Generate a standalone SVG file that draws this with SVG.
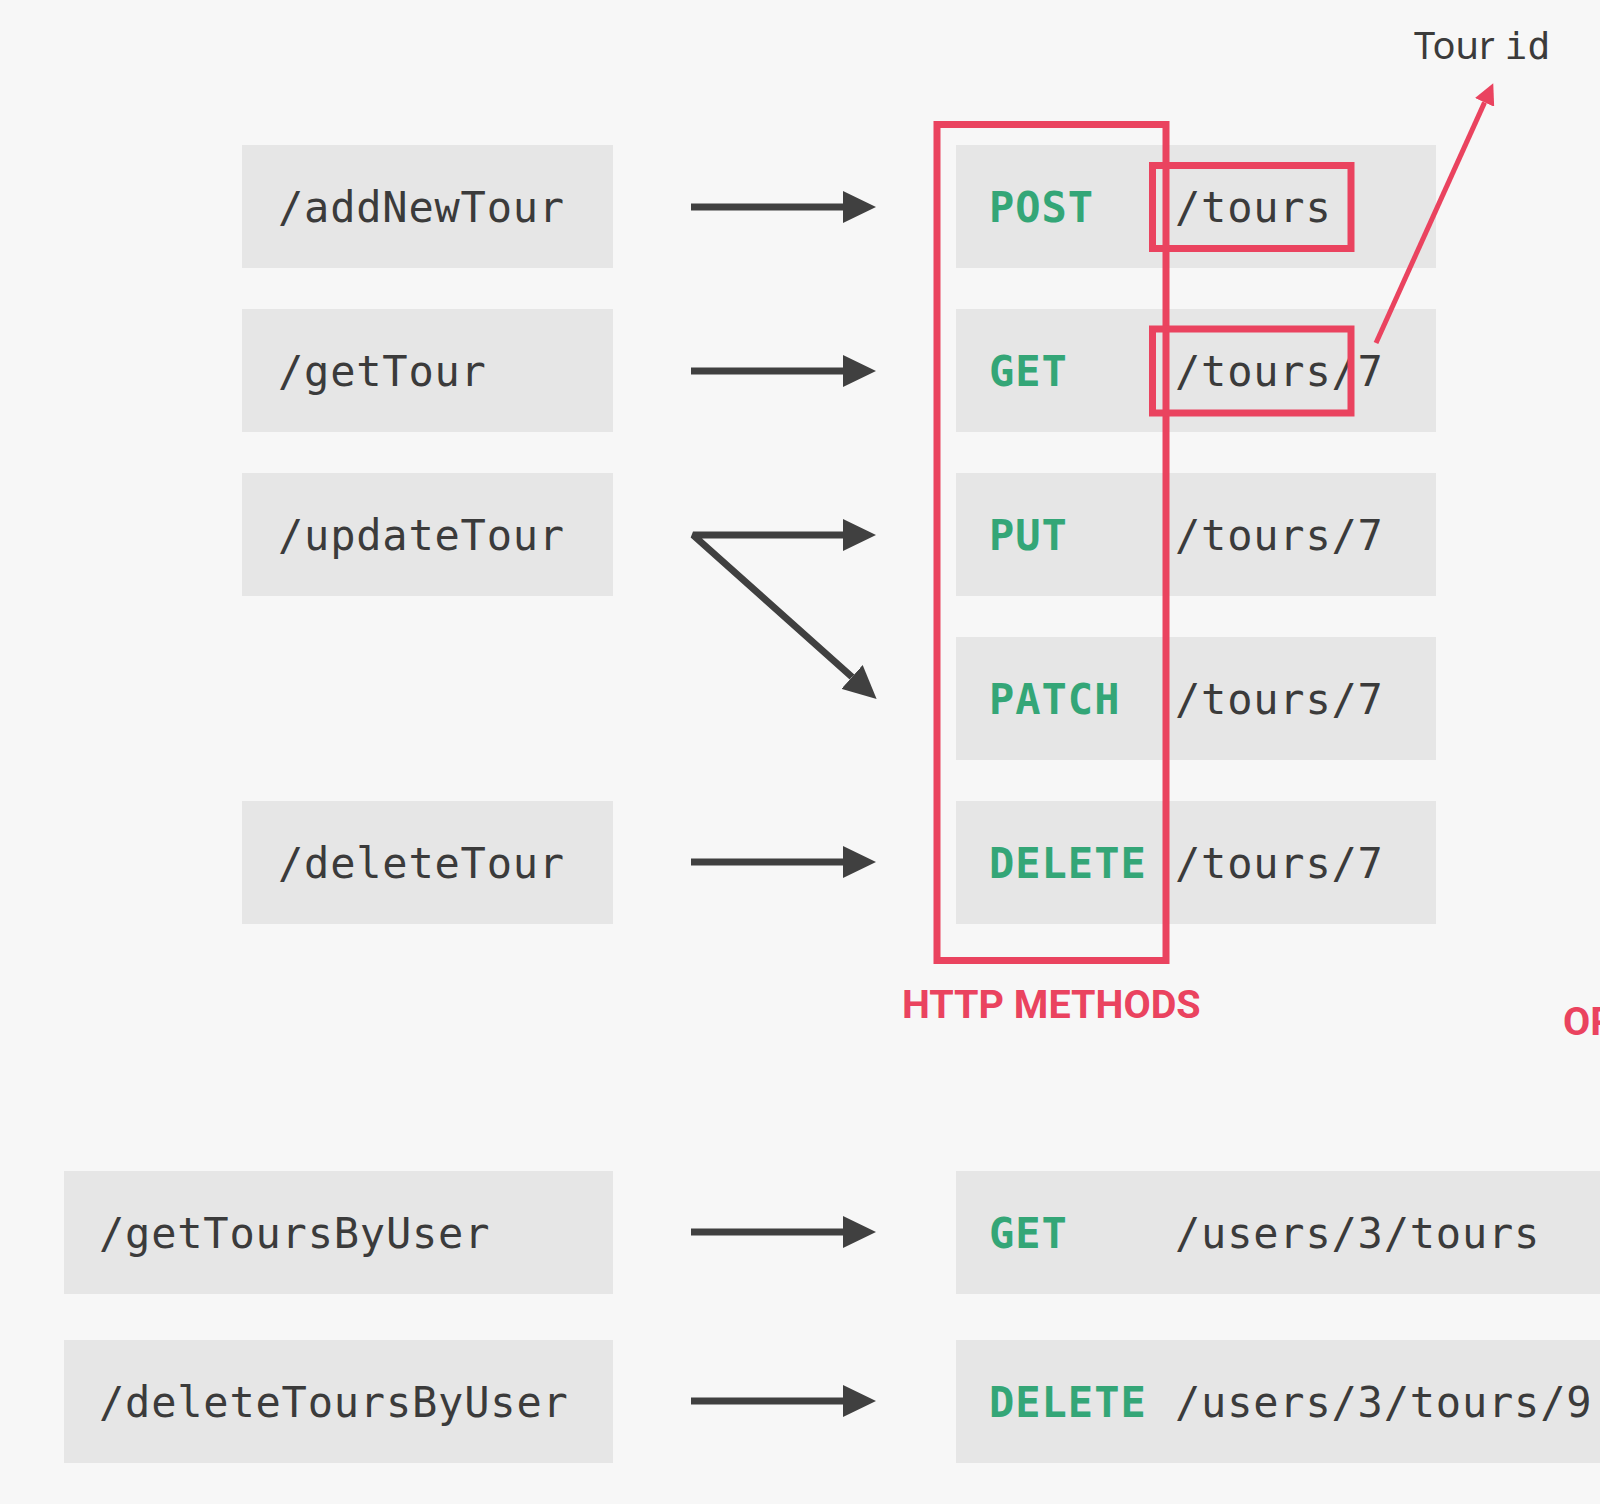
<svg xmlns="http://www.w3.org/2000/svg" width="1600" height="1504" viewBox="0 0 1600 1504">
<defs>
<style>
.bg{fill:#f7f7f7}
.box{fill:#e6e6e6}
.code{font-family:"DejaVu Sans Mono","Liberation Mono",monospace;font-size:42px;letter-spacing:0.8px;fill:#3b3b3b}
.method{font-family:"DejaVu Sans Mono","Liberation Mono",monospace;font-size:42px;letter-spacing:1px;font-weight:bold;fill:#34a677}
.arrow{fill:none;stroke:#404040;stroke-width:7;stroke-linejoin:bevel}
.hl{fill:none;stroke:#ea435f;stroke-width:7}
.label{font-family:Roboto,"Liberation Sans",sans-serif;font-weight:bold;font-size:39.5px;fill:#ea435f}
</style>
<marker id="ah" markerUnits="userSpaceOnUse" viewBox="0 0 33 32" refX="0" refY="16" markerWidth="33" markerHeight="32" orient="auto-start-reverse">
<path d="M0,0 L33,16 L0,32 Z" fill="#404040"/>
</marker>
<marker id="ahr" markerUnits="userSpaceOnUse" viewBox="0 0 21 21" refX="0" refY="10.5" markerWidth="21" markerHeight="21" orient="auto">
<path d="M0,0 L21,10.5 L0,21 Z" fill="#ea435f"/>
</marker>
</defs>
<rect class="bg" x="0" y="0" width="1600" height="1504"/>

<g id="node-addNewTour"><rect class="box" x="242" y="145" width="371" height="123"/><text class="code" x="278" y="222">/addNewTour</text></g>
<g id="node-getTour"><rect class="box" x="242" y="309" width="371" height="123"/><text class="code" x="278" y="386">/getTour</text></g>
<g id="node-updateTour"><rect class="box" x="242" y="473" width="371" height="123"/><text class="code" x="278" y="550">/updateTour</text></g>
<g id="node-deleteTour"><rect class="box" x="242" y="801" width="371" height="123"/><text class="code" x="278" y="878">/deleteTour</text></g>
<g id="node-getToursByUser"><rect class="box" x="64" y="1171" width="549" height="123"/><text class="code" x="99" y="1248">/getToursByUser</text></g>
<g id="node-deleteToursByUser"><rect class="box" x="64" y="1340" width="549" height="123"/><text class="code" x="99" y="1417">/deleteToursByUser</text></g>

<g id="node-post"><rect class="box" x="956" y="145" width="480" height="123"/><text class="method" x="989" y="222">POST</text><text class="code" x="1175" y="222">/tours</text></g>
<g id="node-get"><rect class="box" x="956" y="309" width="480" height="123"/><text class="method" x="989" y="386">GET</text><text class="code" x="1175" y="386">/tours/7</text></g>
<g id="node-put"><rect class="box" x="956" y="473" width="480" height="123"/><text class="method" x="989" y="550">PUT</text><text class="code" x="1175" y="550">/tours/7</text></g>
<g id="node-patch"><rect class="box" x="956" y="637" width="480" height="123"/><text class="method" x="989" y="714">PATCH</text><text class="code" x="1175" y="714">/tours/7</text></g>
<g id="node-delete"><rect class="box" x="956" y="801" width="480" height="123"/><text class="method" x="989" y="878">DELETE</text><text class="code" x="1175" y="878">/tours/7</text></g>
<g id="node-get-users"><rect class="box" x="956" y="1171" width="644" height="123"/><text class="method" x="989" y="1248">GET</text><text class="code" x="1175" y="1248">/users/3/tours</text></g>
<g id="node-delete-users"><rect class="box" x="956" y="1340" width="644" height="123"/><text class="method" x="989" y="1417">DELETE</text><text class="code" x="1175" y="1417">/users/3/tours/9</text></g>

<g id="connectors">
<path class="arrow" d="M691,207 L843,207" marker-end="url(#ah)"/>
<path class="arrow" d="M691,371 L843,371" marker-end="url(#ah)"/>
<path class="arrow" d="M843,535 L693,535 L852,677" marker-start="url(#ah)" marker-end="url(#ah)"/>
<path class="arrow" d="M691,862 L843,862" marker-end="url(#ah)"/>
<path class="arrow" d="M691,1232 L843,1232" marker-end="url(#ah)"/>
<path class="arrow" d="M691,1401 L843,1401" marker-end="url(#ah)"/>
</g>

<g id="highlight-methods">
<rect class="hl" x="937" y="124.5" width="229" height="836"/>
<text class="label" x="902" y="1018">HTTP METHODS</text>
</g>
<g id="highlight-tours"><rect class="hl" x="1152.5" y="165.5" width="198.5" height="83"/></g>
<g id="highlight-tours-get"><rect class="hl" x="1152.5" y="329" width="198.5" height="84"/></g>
<g id="tour-id">
<path d="M1376,343 L1484.6,102.4" fill="none" stroke="#ea435f" stroke-width="5" marker-end="url(#ahr)"/>
<text x="1414" y="59" font-family="'Noto Sans','Open Sans',sans-serif" font-size="38" fill="#3b3b3b">Tour <tspan font-family="'DejaVu Sans Mono',monospace" font-size="38">id</tspan></text>
</g>
<text class="label" x="1563" y="1035">OP</text>
</svg>
